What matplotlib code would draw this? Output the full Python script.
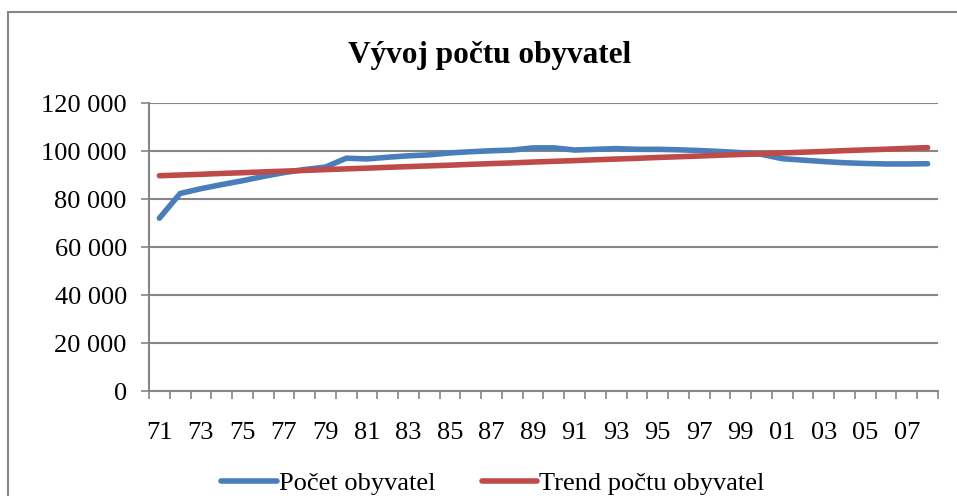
import matplotlib.pyplot as plt
from matplotlib.patches import Rectangle
from matplotlib.ticker import FuncFormatter, FixedLocator

plt.rcParams['font.family'] = ['Liberation Serif', 'DejaVu Serif']

# roky 1971-2008
roky = ['71', '72', '73', '74', '75', '76', '77', '78', '79', '80',
        '81', '82', '83', '84', '85', '86', '87', '88', '89', '90',
        '91', '92', '93', '94', '95', '96', '97', '98', '99', '00',
        '01', '02', '03', '04', '05', '06', '07', '08']

pocet = [72000, 82300, 84300, 86000, 87600, 89400, 91000, 92300, 93300, 97000,
         96700, 97400, 98000, 98400, 99200, 99700, 100100, 100400, 101300, 101300,
         100400, 100700, 101000, 100700, 100700, 100500, 100200, 99800, 99300, 98600,
         96800, 96200, 95600, 95100, 94800, 94600, 94600, 94700]

trend = [89700, 90000, 90300, 90650, 90950, 91300, 91600, 91900, 92250, 92550,
         92850, 93200, 93500, 93800, 94100, 94450, 94750, 95050, 95400, 95700,
         96000, 96350, 96650, 96950, 97300, 97600, 97900, 98250, 98550, 98850,
         99200, 99500, 99800, 100150, 100450, 100750, 101100, 101400]

fig = plt.figure(figsize=(9.57, 4.96), dpi=100)
ax = fig.add_axes([149/957, 1-391/496, (938-149)/957, (391-103)/496])

x = range(len(roky))
ax.plot(x, pocet, color='#4A7EBB', lw=4, solid_capstyle='round', label='Počet obyvatel', zorder=3)
ax.plot(x, trend, color='#BE4B48', lw=4, solid_capstyle='round', label='Trend počtu obyvatel', zorder=3)

ax.set_xlim(-0.5, len(roky) - 0.5)
ax.set_ylim(0, 120000)
ax.set_yticks(range(0, 120001, 20000))
ax.yaxis.set_major_formatter(FuncFormatter(lambda v, p: f'{int(v):,}'.replace(',', ' ')))
ax.grid(axis='y', color='#868686', lw=1.5)
ax.set_axisbelow(True)

# tick marks between categories, labels on every other year
ax.xaxis.set_major_locator(FixedLocator([i - 0.5 for i in range(len(roky) + 1)]))
ax.xaxis.set_minor_locator(FixedLocator(list(range(0, len(roky), 2))))
ax.set_xticklabels([], minor=False)
ax.set_xticklabels(roky[::2], minor=True)
ax.tick_params(axis='x', which='major', length=6, width=1.2, color='#868686')
ax.tick_params(axis='x', which='minor', length=0, pad=22, labelsize=19)
ax.tick_params(axis='y', length=6, width=1.2, color='#868686', pad=10, labelsize=19)

for s in ['top', 'right']:
    ax.spines[s].set_visible(False)
for s in ['left', 'bottom']:
    ax.spines[s].set_color('#868686')
    ax.spines[s].set_linewidth(1.5)

fig.text(490/957, 1-55/496, 'Vývoj počtu obyvatel', ha='center', va='center',
         fontsize=22.5, fontweight='bold')

fig.legend(loc='center', bbox_to_anchor=(493/957, 1-483/496), ncol=2, frameon=False,
           fontsize=19, handlelength=2.1, handletextpad=0.08, columnspacing=1.75,
           borderpad=0, borderaxespad=0)

# chart frame
fig.patches.append(Rectangle((8/957, -0.2), 2.0, 1-12/496+0.2, transform=fig.transFigure,
                             fill=False, edgecolor='#868686', lw=1.5))

fig.savefig('out.png', dpi=100)
